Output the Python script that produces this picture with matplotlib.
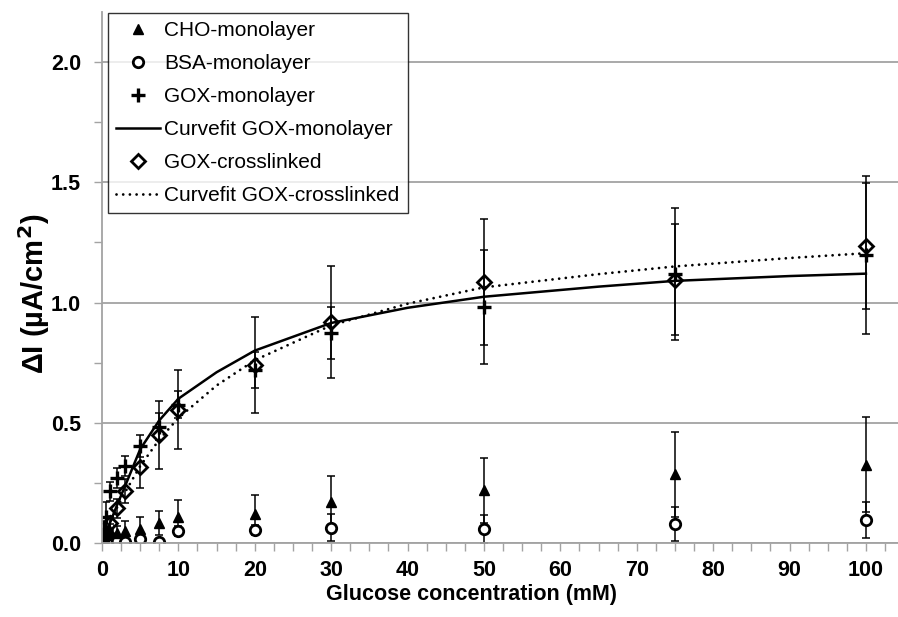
import numpy as np
import matplotlib.pyplot as plt
from matplotlib.lines import Line2D
from matplotlib.ticker import MultipleLocator

plt.rcParams['font.family'] = ['Liberation Sans', 'DejaVu Sans']

# glucose concentration (mM)
conc = [0.25, 0.5, 1, 2, 3, 5, 7.5, 10, 20, 30, 50, 75, 100]

# CHO-monolayer
cho = [0.02, 0.04, 0.05, 0.04, 0.05, 0.06, 0.085, 0.11, 0.12, 0.17, 0.22, 0.285, 0.325]
cho_err = [0.01, 0.02, 0.03, 0.03, 0.04, 0.05, 0.05, 0.07, 0.08, 0.11, 0.135, 0.177, 0.197]

# BSA-monolayer
bsa = [0.0, 0.005, 0.01, 0.01, 0.005, 0.017, 0.003, 0.05, 0.053, 0.064, 0.058, 0.078, 0.096]
bsa_err = [0.005, 0.005, 0.01, 0.01, 0.01, 0.01, 0.01, 0.02, 0.02, 0.056, 0.057, 0.071, 0.076]

# GOX-monolayer
gox = [0.06, 0.11, 0.215, 0.27, 0.32, 0.403, 0.484, 0.575, 0.72, 0.873, 0.981, 1.12, 1.197]
gox_err = [0.03, 0.06, 0.04, 0.04, 0.04, 0.046, 0.056, 0.055, 0.075, 0.108, 0.236, 0.275, 0.33]

# GOX-crosslinked
goxc = [0.02, 0.04, 0.082, 0.144, 0.217, 0.316, 0.45, 0.555, 0.74, 0.919, 1.085, 1.095, 1.235]
goxc_err = [0.01, 0.02, 0.03, 0.04, 0.05, 0.087, 0.142, 0.165, 0.2, 0.233, 0.262, 0.23, 0.262]

# curve fits
fit_x = [0.2, 0.5, 1, 2, 3, 5, 7.5, 10, 15, 20, 30, 40, 50, 65, 75, 90, 100]
fit_gox = [0.0, 0.03, 0.08, 0.16, 0.235, 0.39, 0.51, 0.60, 0.71, 0.80, 0.915, 0.978,
           1.024, 1.066, 1.09, 1.11, 1.12]
fit_goxc = [0.02, 0.04, 0.08, 0.15, 0.21, 0.32, 0.43, 0.52, 0.655, 0.76, 0.905, 0.995,
            1.063, 1.118, 1.15, 1.185, 1.205]

fig = plt.figure(figsize=(8.98, 6.17), dpi=100)
ax = fig.add_axes([102/898, 74/617, 796/898, 531/617])

eb = dict(fmt='none', ecolor='black', elinewidth=1.1, capsize=3, capthick=1.1)
ax.errorbar(conc, bsa, yerr=bsa_err, **eb)
ax.errorbar(conc, cho, yerr=cho_err, **eb)
ax.errorbar(conc, gox, yerr=gox_err, **eb)
ax.errorbar(conc, goxc, yerr=goxc_err, **eb)

ax.plot(fit_x, fit_gox, color='black', lw=1.8)
ax.plot(fit_x, fit_goxc, color='black', lw=2, linestyle=(0, (0.01, 2.4)),
        dash_capstyle='round')

ax.plot(conc, bsa, 'o', ms=7.5, mfc='white', mec='black', mew=2, ls='none')
ax.plot(conc, cho, '^', ms=7.5, color='black', ls='none')
ax.plot(conc, gox, '+', ms=10, mec='black', mew=2.4, ls='none')
ax.plot(conc, goxc, 'D', ms=7.5, mfc='none', mec='black', mew=2, ls='none')

ax.set_xlim(0, 104.2)
ax.set_ylim(0, 2.208)
ax.xaxis.set_major_locator(MultipleLocator(10))
ax.xaxis.set_minor_locator(MultipleLocator(2.5))
ax.yaxis.set_major_locator(MultipleLocator(0.5))
ax.yaxis.set_minor_locator(MultipleLocator(0.25))
ax.yaxis.set_major_formatter('{x:.1f}')

ax.yaxis.grid(True, which='major', color='#a3a3a3', lw=1.3)
ax.set_axisbelow(True)
for s in ['top', 'right']:
    ax.spines[s].set_visible(False)
for s in ['left', 'bottom']:
    ax.spines[s].set_color('#a3a3a3')
    ax.spines[s].set_linewidth(1.3)
ax.tick_params(axis='both', which='both', direction='out', color='#a3a3a3',
               length=6, width=1)
ax.tick_params(axis='y', pad=9, labelsize=15.5)
ax.tick_params(axis='x', pad=6, labelsize=15.5)
for lab in ax.get_xticklabels() + ax.get_yticklabels():
    lab.set_fontweight('bold')

ax.set_xlabel('Glucose concentration (mM)', fontsize=15.5, fontweight='bold')
ax.xaxis.set_label_coords(0.4636, -0.078)
ax.set_ylabel('ΔI (µA/cm$^\\mathbf{2}$)', fontsize=21, fontweight='bold', va='center')
ax.yaxis.set_label_coords(-0.085, 0.47)

handles = [
    Line2D([], [], marker='^', ms=7.5, color='black', ls='none'),
    Line2D([], [], marker='o', ms=7.5, mfc='white', mec='black', mew=2, ls='none'),
    Line2D([], [], marker='+', ms=10, mec='black', mew=2.4, ls='none'),
    Line2D([], [], color='black', lw=1.8),
    Line2D([], [], marker='D', ms=7.5, mfc='none', mec='black', mew=2, ls='none'),
    Line2D([], [], color='black', lw=2, ls=(0, (0.01, 2.4)), dash_capstyle='round'),
]
labels = ['CHO-monolayer', 'BSA-monolayer', 'GOX-monolayer',
          'Curvefit GOX-monolayer', 'GOX-crosslinked', 'Curvefit GOX-crosslinked']
leg = fig.legend(handles, labels, loc='upper left', bbox_to_anchor=(108/898, 1 - 13/617),
                 fontsize=15, frameon=True, fancybox=False, handlelength=2.1,
                 handletextpad=0.2, borderpad=0.4, labelspacing=0.67,
                 borderaxespad=0)
leg.get_frame().set_edgecolor('black')
leg.get_frame().set_linewidth(1)

fig.savefig('out.png', dpi=100)
